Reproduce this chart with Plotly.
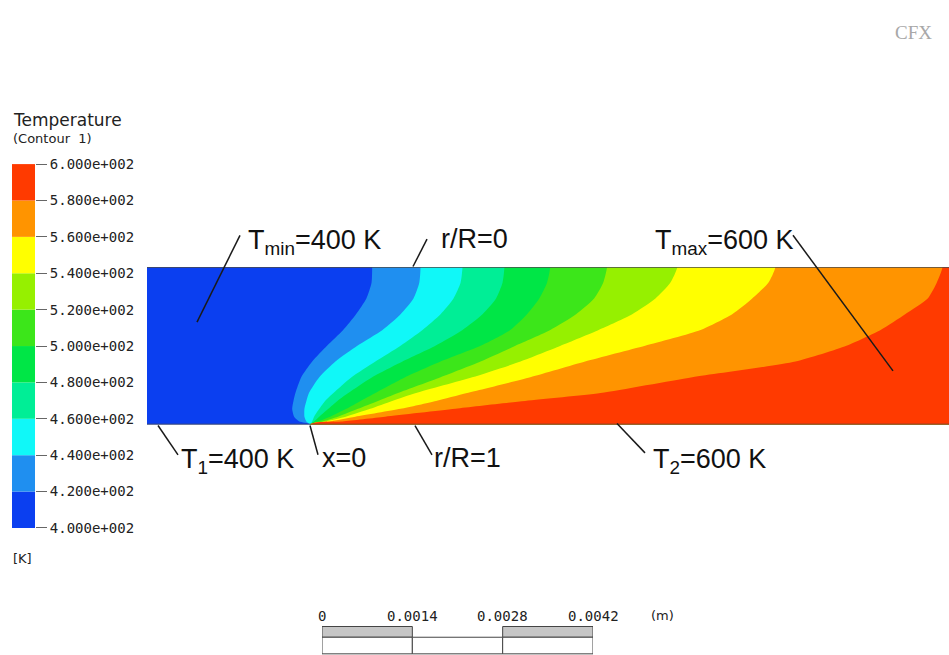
import plotly.graph_objects as go

# ---------------- data ----------------
levels = [400, 420, 440, 460, 480, 500, 520, 540, 560, 580, 600]
band_colors = ["#0B3FF0", "#1F8FF0", "#10F8F8", "#00EE96", "#00E646",
               "#3CE61A", "#96F000", "#FFFF00", "#FF9400", "#FF3A00"]
level_labels = ["4.000e+002", "4.200e+002", "4.400e+002", "4.600e+002", "4.800e+002",
                "5.000e+002", "5.200e+002", "5.400e+002", "5.600e+002", "5.800e+002",
                "6.000e+002"]

# pipe geometry (axial position in mm, radial position r/R)
pipe_x_min = -2.53
pipe_x_max = 9.90

# isotherm positions: axial x (mm) at each r/R sample (0 = axis, 1 = wall)
r_samples = [0.0, 0.1, 0.2, 0.3, 0.4, 0.5, 0.6, 0.7, 0.8, 0.85, 0.9, 0.95, 0.98, 1.0]
iso_420 = [0.96, 0.95, 0.87, 0.71, 0.51, 0.26, 0.03, -0.14, -0.23, -0.26, -0.28, -0.25, -0.17, 0.0]
iso_440 = [1.71, 1.69, 1.60, 1.40, 1.12, 0.73, 0.39, 0.14, -0.02, -0.06, -0.09, -0.09, -0.06, 0.0]
iso_460 = [2.36, 2.33, 2.22, 2.02, 1.74, 1.40, 1.01, 0.64, 0.36, 0.23, 0.14, 0.06, 0.03, 0.0]
iso_480 = [3.01, 2.98, 2.88, 2.67, 2.36, 1.94, 1.43, 0.96, 0.59, 0.42, 0.28, 0.14, 0.06, 0.0]
iso_500 = [3.72, 3.67, 3.55, 3.36, 3.10, 2.64, 2.02, 1.47, 1.01, 0.78, 0.56, 0.31, 0.12, 0.0]
iso_520 = [4.60, 4.54, 4.40, 4.12, 3.72, 3.18, 2.64, 2.02, 1.36, 1.05, 0.74, 0.43, 0.19, 0.0]
iso_540 = [5.69, 5.58, 5.35, 4.99, 4.47, 3.88, 3.26, 2.51, 1.64, 1.27, 0.93, 0.55, 0.24, 0.0]
iso_560 = [7.21, 7.10, 6.85, 6.54, 6.05, 5.19, 4.26, 3.41, 2.43, 1.95, 1.40, 0.70, 0.30, 0.0]
iso_580 = [9.80, 9.71, 9.57, 9.22, 8.84, 8.31, 7.52, 5.92, 4.50, 3.33, 2.25, 1.16, 0.50, 0.0]
isotherms = [iso_420, iso_440, iso_460, iso_480, iso_500, iso_520, iso_540, iso_560, iso_580]

# scale bar (m)
scale_ticks = [0, 0.0014, 0.0028, 0.0042]
scale_labels = ["0", "0.0014", "0.0028", "0.0042"]

# ---------------- layout helpers ----------------
W, H = 949, 655


def px(x):
    return x / W


def py(y):
    return 1 - y / H


fig = go.Figure()

# base band (coldest) over the whole pipe
far = pipe_x_max + 3
fig.add_trace(go.Scatter(
    x=[pipe_x_min - 3, far, far, pipe_x_min - 3],
    y=[-0.5, -0.5, 1.5, 1.5],
    fill="toself", fillcolor=band_colors[0], mode="lines", line=dict(width=0),
    hoverinfo="skip", xaxis="x", yaxis="y"))

# each isotherm: fill everything downstream with the next band colour
for k, iso in enumerate(isotherms):
    xs = [iso[0]] + list(iso) + [iso[-1], far, far]
    ys = [-0.4] + list(r_samples) + [1.4, 1.4, -0.4]
    fig.add_trace(go.Scatter(
        x=xs, y=ys, fill="toself", fillcolor=band_colors[k + 1],
        mode="lines", line=dict(width=0, shape="spline", smoothing=0.6),
        hoverinfo="skip", xaxis="x", yaxis="y"))

# colour legend as stacked bars
lows = levels[:-1]
heights = [b - a for a, b in zip(levels[:-1], levels[1:])]
fig.add_trace(go.Bar(
    x=[0.5] * len(lows), y=heights, base=lows, width=1,
    marker=dict(color=band_colors, line=dict(width=0)),
    hoverinfo="skip", xaxis="x2", yaxis="y2"))

# invisible anchor trace for scale bar axes
fig.add_trace(go.Scatter(x=[0], y=[0], mode="markers", marker=dict(opacity=0),
                         hoverinfo="skip", xaxis="x3", yaxis="y3"))

shapes = []
# pipe walls
for rv in (0, 1):
    shapes.append(dict(type="line", xref="x", yref="y", x0=pipe_x_min, x1=pipe_x_max,
                       y0=rv, y1=rv, line=dict(color="#4a4a4a", width=1.5)))

# scale bar
for i in range(len(scale_ticks) - 1):
    if i % 2 == 0:
        shapes.append(dict(type="rect", xref="x3", yref="paper",
                           x0=scale_ticks[i], x1=scale_ticks[i + 1],
                           y0=py(645), y1=py(634),
                           fillcolor="#C6C6C6", line=dict(color="#444", width=1)))
    shapes.append(dict(type="rect", xref="x3", yref="paper",
                       x0=scale_ticks[i], x1=scale_ticks[i + 1],
                       y0=py(662), y1=py(645),
                       fillcolor="white", line=dict(color="#444", width=1)))

# leader lines
leaders = [((197, 322), (240, 233)), ((413, 265), (427, 237)), ((793, 233), (893, 372)),
           ((158, 428), (178, 458)), ((310, 428), (318, 458)), ((415, 428), (432, 458)),
           ((617, 426), (645, 456))]
for (x0, y0), (x1, y1) in leaders:
    shapes.append(dict(type="line", xref="paper", yref="paper",
                       x0=px(x0), y0=py(y0), x1=px(x1), y1=py(y1),
                       line=dict(color="#1a1a1a", width=1.5)))

lab_font = dict(family="Liberation Sans, Arial, sans-serif", size=27, color="#111")
annotations = []
labels = [("T<sub>min</sub>=400 K", 246, 240), ("r/R=0", 439, 237),
          ("T<sub>max</sub>=600 K", 653, 240), ("T<sub>1</sub>=400 K", 179, 464),
          ("x=0", 320, 461), ("r/R=1", 432, 461), ("T<sub>2</sub>=600 K", 651, 464)]
for text, x, y in labels:
    annotations.append(dict(text=text, x=px(x), y=py(y), xref="paper", yref="paper",
                            xanchor="left", yanchor="middle", showarrow=False, font=lab_font))

# legend titles
annotations += [
    dict(text="Temperature", x=px(11), y=py(115), xref="paper", yref="paper",
         xanchor="left", yanchor="middle", showarrow=False,
         font=dict(family="DejaVu Sans", size=17, color="#222")),
    dict(text="(Contour  1)", x=px(11), y=py(134), xref="paper", yref="paper",
         xanchor="left", yanchor="middle", showarrow=False,
         font=dict(family="DejaVu Sans", size=13, color="#222")),
    dict(text="[K]", x=px(11), y=py(564), xref="paper", yref="paper",
         xanchor="left", yanchor="middle", showarrow=False,
         font=dict(family="DejaVu Sans", size=13, color="#222")),
    dict(text="CFX", x=px(913), y=py(25), xref="paper", yref="paper",
         xanchor="center", yanchor="middle", showarrow=False,
         font=dict(family="Liberation Serif", size=19, color="#a8a8a8")),
    dict(text="(m)", x=px(662), y=py(623), xref="paper", yref="paper",
         xanchor="center", yanchor="middle", showarrow=False,
         font=dict(family="DejaVu Sans", size=13, color="#222")),
]
# scale labels
mono = dict(family="DejaVu Sans Mono", size=14, color="#222")
for t, s in zip(scale_ticks, scale_labels):
    annotations.append(dict(text=s, x=t, y=py(623), xref="x3", yref="paper",
                            xanchor="center", yanchor="middle", showarrow=False, font=mono))

hidden = dict(visible=False, showgrid=False, zeroline=False)
fig.update_layout(
    width=W, height=H, margin=dict(l=0, r=0, t=0, b=0),
    paper_bgcolor="white", plot_bgcolor="white", showlegend=False,
    xaxis=dict(domain=[px(147), 1.0], range=[pipe_x_min, pipe_x_max], **hidden),
    yaxis=dict(domain=[py(427), py(265.5)], range=[1, 0], anchor="x", **hidden),
    xaxis2=dict(domain=[px(12), px(35)], range=[0, 1], anchor="y2", **hidden),
    yaxis2=dict(domain=[py(533), py(160)], range=[400, 600], anchor="x2", side="right",
                tickvals=levels, ticktext=level_labels, ticks="outside", ticklen=11,
                tickcolor="#666", tickwidth=1, showgrid=False, zeroline=False,
                showline=False, tickfont=mono),
    xaxis3=dict(domain=[px(322), px(593)], range=[0, 0.0042], anchor="y3", **hidden),
    yaxis3=dict(domain=[0, 0.02], range=[0, 1], anchor="x3", **hidden),
    shapes=shapes, annotations=annotations,
)

fig.write_html("out.html", config={"displayModeBar": False},
               post_script="document.body.style.margin='0';document.body.style.overflow='hidden';")
